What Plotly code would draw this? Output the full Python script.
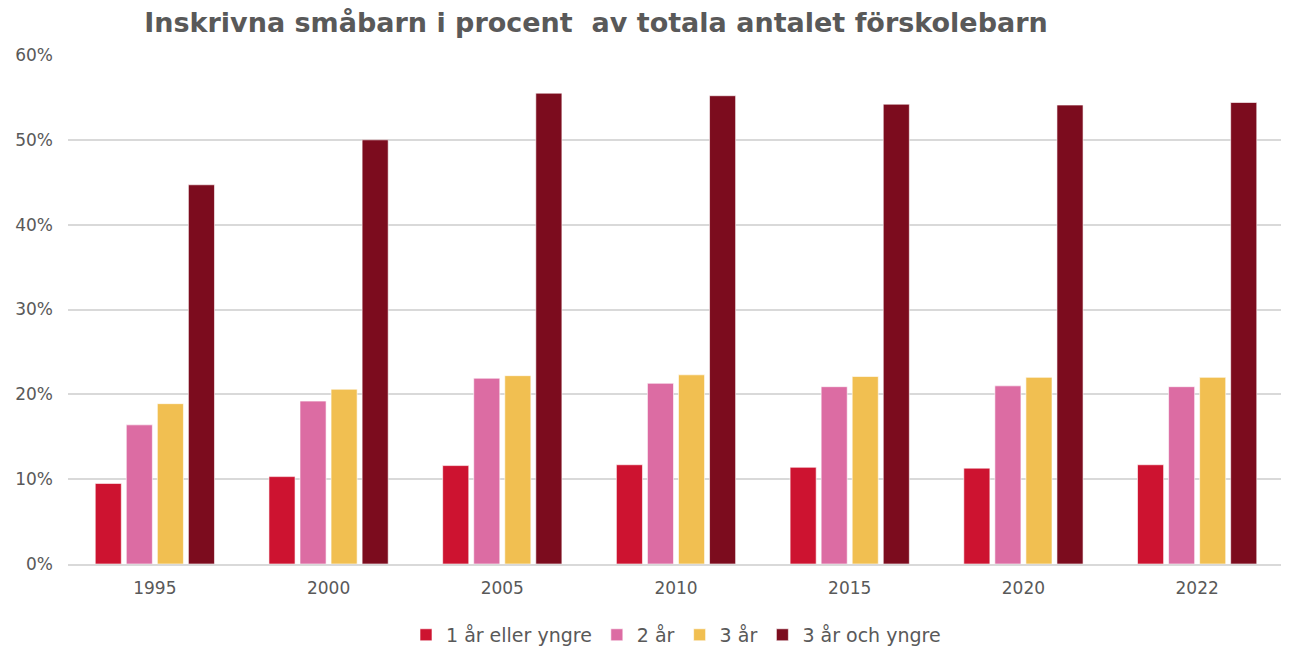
import plotly.graph_objects as go

years = ["1995", "2000", "2005", "2010", "2015", "2020", "2022"]
series_names = ["1 år eller yngre", "2 år", "3 år", "3 år och yngre"]
v_1_or_younger = [9.5, 10.3, 11.6, 11.7, 11.4, 11.3, 11.7]
v_2 = [16.4, 19.2, 21.9, 21.3, 20.9, 21.0, 20.9]
v_3 = [18.9, 20.6, 22.2, 22.3, 22.1, 22.0, 22.0]
v_3_and_younger = [44.7, 50.0, 55.5, 55.2, 54.2, 54.1, 54.4]
colors = ["#CD1330", "#DC6CA3", "#F1BF51", "#7C0C1E"]

fig = go.Figure()
for name, vals, col in zip(series_names, [v_1_or_younger, v_2, v_3, v_3_and_younger], colors):
    fig.add_trace(go.Bar(
        x=years, y=[v / 100 for v in vals], name=name,
        marker=dict(color=col, line=dict(color="rgba(255,255,255,0.6)", width=1)),
    ))

fig.update_layout(
    width=1281, height=640,
    paper_bgcolor="white", plot_bgcolor="white",
    margin=dict(l=60, r=5, t=47, b=84, autoexpand=False),
    barmode="group", bargap=0.285, bargroupgap=0.16,
    title=dict(text="Inskrivna småbarn i procent  av totala antalet förskolebarn",
               x=0.459, xanchor="center", y=0.978, yanchor="middle",
               font=dict(family="DejaVu Sans", size=27, color="#595959", weight="bold")),
    font=dict(family="DejaVu Sans", size=17, color="#595959"),
    legend=dict(orientation="h", x=0.5, xanchor="center", y=-0.102, yanchor="top",
                font=dict(family="DejaVu Sans", size=19, color="#595959"),
                itemwidth=30, traceorder="normal"),
    showlegend=True,
)
fig.update_yaxes(range=[0, 0.6], dtick=0.1, tickformat=".0%", showgrid=True,
                 gridcolor="#D9D9D9", gridwidth=1.5, zeroline=False, showline=False,
                 ticks="", ticklabelstandoff=14, automargin=False)
fig.update_xaxes(showline=True, linecolor="#D9D9D9", linewidth=1.5, ticks="",
                 ticklabelstandoff=8, automargin=False)

fig.write_html("out.html")
